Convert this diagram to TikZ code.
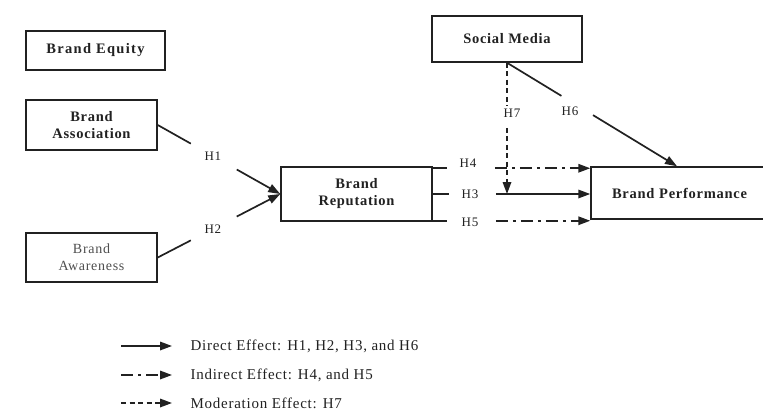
\documentclass[tikz,border=0pt]{standalone}
\usepackage{fontspec}
\setmainfont{Liberation Serif}[LetterSpace=5]
\usetikzlibrary{arrows.meta,calc}
\definecolor{ink}{gray}{0.13}
\tikzset{
  box/.style={draw=ink, line width=1.5pt, align=center, text=ink, inner sep=0pt,
    font=\fontsize{14.5}{17}\selectfont\bfseries},
  plainbox/.style={box, font=\fontsize{14}{17}\selectfont, text=ink!80},
  lab/.style={font=\fontsize{13}{15}\selectfont, text=ink},
  conn/.style={draw=ink, line width=1.7pt},
  tip/.style={-{Triangle[length=12pt,width=8.5pt]}},
  dashdot/.style={dash pattern=on 12pt off 5pt on 3pt off 5pt},
  moddash/.style={dash pattern=on 5pt off 3.5pt},
  legtxt/.style={font=\fontsize{15}{17}\selectfont, text=ink, anchor=west},
}
\begin{document}
\begin{tikzpicture}[x=1pt,y=-1pt]
\useasboundingbox (0,0) rectangle (763,412);

% boxes
\node[box, minimum width=139pt, minimum height=39pt] (eq) at (95.5,50.5) {\addfontfeature{LetterSpace=9}Brand Equity};
\node[box, minimum width=131pt, minimum height=50pt] (assoc) at (91.5,125) {Brand\\Association};
\node[plainbox, minimum width=131pt, minimum height=49pt] (aware) at (91.5,257.5) {Brand\\Awareness};
\node[box, minimum width=151pt, minimum height=54pt] (rep) at (356.5,194) {Brand\\Reputation};
\node[box, minimum width=150pt, minimum height=46pt] (sm) at (507,39) {Social Media};
\node[box, minimum width=184pt, minimum height=52pt, text width=184pt, align=left] (perf) at (683,193)
  {\hspace*{21pt}Brand Performance};

% H1, H2
\draw[conn] (assoc.east) -- ($(assoc.east)!0.27!(rep.west)$);
\draw[conn,tip] ($(assoc.east)!0.645!(rep.west)$) -- (rep.west);
\node[lab] (h1) at ($(assoc.east)!0.45!(rep.west)$) {H1};
\draw[conn] (aware.east) -- ($(aware.east)!0.27!(rep.west)$);
\draw[conn,tip] ($(aware.east)!0.645!(rep.west)$) -- (rep.west);
\node[lab] (h2) at ($(aware.east)!0.45!(rep.west)$) {H2};

% H4, H3, H5
\coordinate (h4s) at ($(rep.north east)+(0,2)$);
\coordinate (h5s) at ($(rep.south east)+(0,-1)$);
\draw[conn] (h4s) -- ++(14,0);
\draw[conn,dashdot,tip] ($(h4s)+(62,0)$) -- (perf.west |- h4s);
\node[lab] (h4) at (468,163) {H4};
\draw[conn] (rep.east) -- ++(16,0);
\draw[conn,tip] ($(rep.east)+(63,0)$) -- (perf.west |- rep.east);
\node[lab] (h3) at (470,194) {H3};
\draw[conn] (h5s) -- ++(14,0);
\draw[conn,dashdot,tip] ($(h5s)+(63,0)$) -- (perf.west |- h5s);
\node[lab] (h5) at (470,222) {H5};

% H7
\coordinate (h7e) at (sm.south |- rep.east);
\draw[conn,moddash] (sm.south) -- ($(sm.south)+(0,43)$);
\draw[conn,moddash,tip] ($(sm.south)+(0,65)$) -- (h7e);
\node[lab] (h7) at (512,113) {H7};

% H6
\coordinate (h6e) at ($(perf.north)+(-6,0)$);
\draw[conn] (sm.south) -- ($(sm.south)!0.32!(h6e)$);
\draw[conn,tip] ($(sm.south)!0.506!(h6e)$) -- (h6e);
\node[lab] (h6) at (570,111) {H6};

% legend
\coordinate (l1a) at (121,346); \coordinate (l1b) at (172,346);
\coordinate (l2a) at (121,375); \coordinate (l2b) at (172,375);
\coordinate (l3a) at (121,403); \coordinate (l3b) at (172,403);
\draw[conn,tip] (l1a) -- (l1b);
\draw[conn,dashdot,tip] (l2a) -- (l2b);
\draw[conn,moddash,tip] (l3a) -- (l3b);
\node[legtxt] (t1) at (187,346) {Direct Effect: H1, H2, H3, and H6};
\node[legtxt] (t2) at (187,375) {Indirect Effect: H4, and H5};
\node[legtxt] (t3) at (187,403) {Moderation Effect: H7};
\end{tikzpicture}
\end{document}
